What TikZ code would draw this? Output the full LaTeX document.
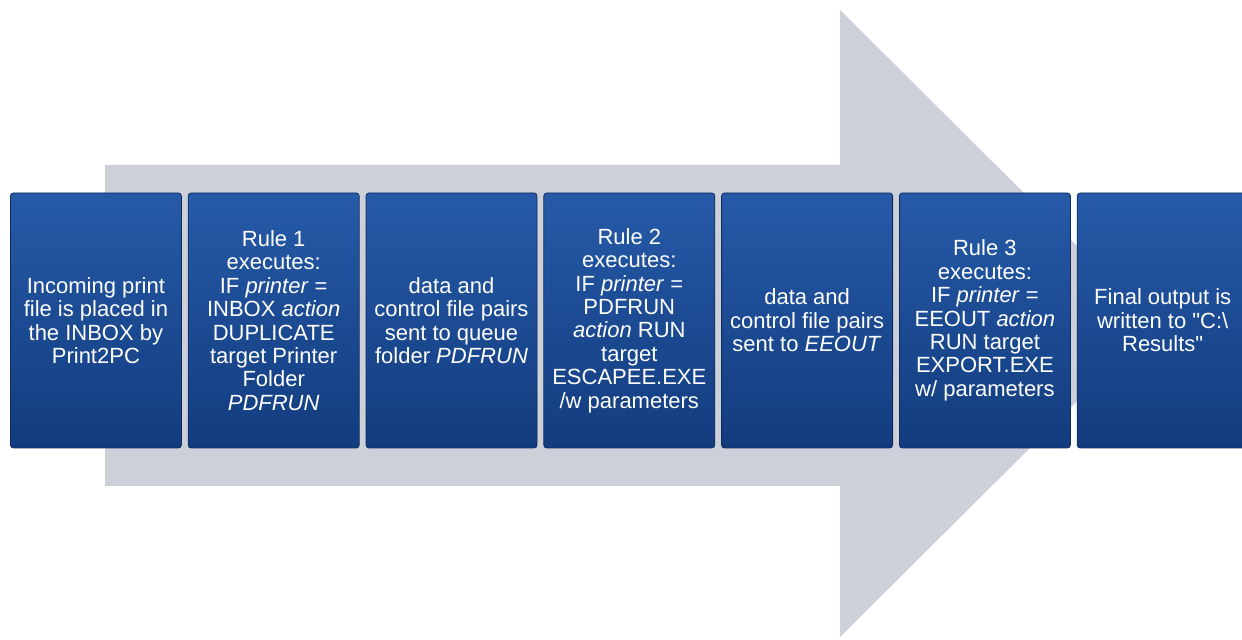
\documentclass[tikz,border=0pt]{standalone}
\usepackage{fontspec}
\setmainfont{Liberation Sans}
\usetikzlibrary{positioning}
\definecolor{arrowgray}{RGB}{205,208,217}
\definecolor{bluetop}{RGB}{38,90,168}
\definecolor{bluebottom}{RGB}{18,60,126}
\definecolor{blueedge}{RGB}{14,44,94}
\tikzset{
    %Define style for the blue boxes
    stage/.style={
           rectangle,
           rounded corners=1.5pt,
           draw=blueedge, thin,
           top color=bluetop,
           bottom color=bluebottom,
           text=white,
           minimum width=85.5pt,
           minimum height=127.5pt,
           inner sep=1pt,
           align=center,
           font=\fontsize{11}{11.7}\selectfont},
    %Define style for the big arrow behind
    backarrow/.style={
           fill=arrowgray,
           draw=none}
}

\begin{document}
\begin{tikzpicture}[x=0.5pt, y=-0.5pt, node distance=3pt]
\useasboundingbox (0,0) rectangle (1242,640);

%big gray arrow
\fill[backarrow] (105,165) -- (840,165) -- (840,10) -- (1155,323.5)
  -- (840,637) -- (840,486) -- (105,486) -- cycle;

%boxes, left to right
\node[stage, anchor=west] (inbox) at (10,320.5)
  {Incoming print\\file is placed in\\the INBOX by\\Print2PC};
\node[stage, right=of inbox] (rule1)
  {Rule 1\\executes:\\IF \textit{printer} =\\INBOX \textit{action}\\DUPLICATE\\target Printer\\Folder\\\textit{PDFRUN}};
\node[stage, right=of rule1] (pdfrun)
  {data and\\control file pairs\\sent to queue\\folder \textit{PDFRUN}};
\node[stage, right=of pdfrun] (rule2)
  {Rule 2\\executes:\\IF \textit{printer} =\\PDFRUN\\\textit{action} RUN\\target\\ESCAPEE.EXE\\/w parameters};
\node[stage, right=of rule2] (eeout)
  {data and\\control file pairs\\sent to \textit{EEOUT}};
\node[stage, right=of eeout] (rule3)
  {Rule 3\\executes:\\IF \textit{printer} =\\EEOUT \textit{action}\\RUN target\\EXPORT.EXE\\w/ parameters};
\node[stage, right=of rule3] (results)
  {Final output is\\written to \textquotedbl C:\textbackslash\\Results\textquotedbl};

\end{tikzpicture}
\end{document}
